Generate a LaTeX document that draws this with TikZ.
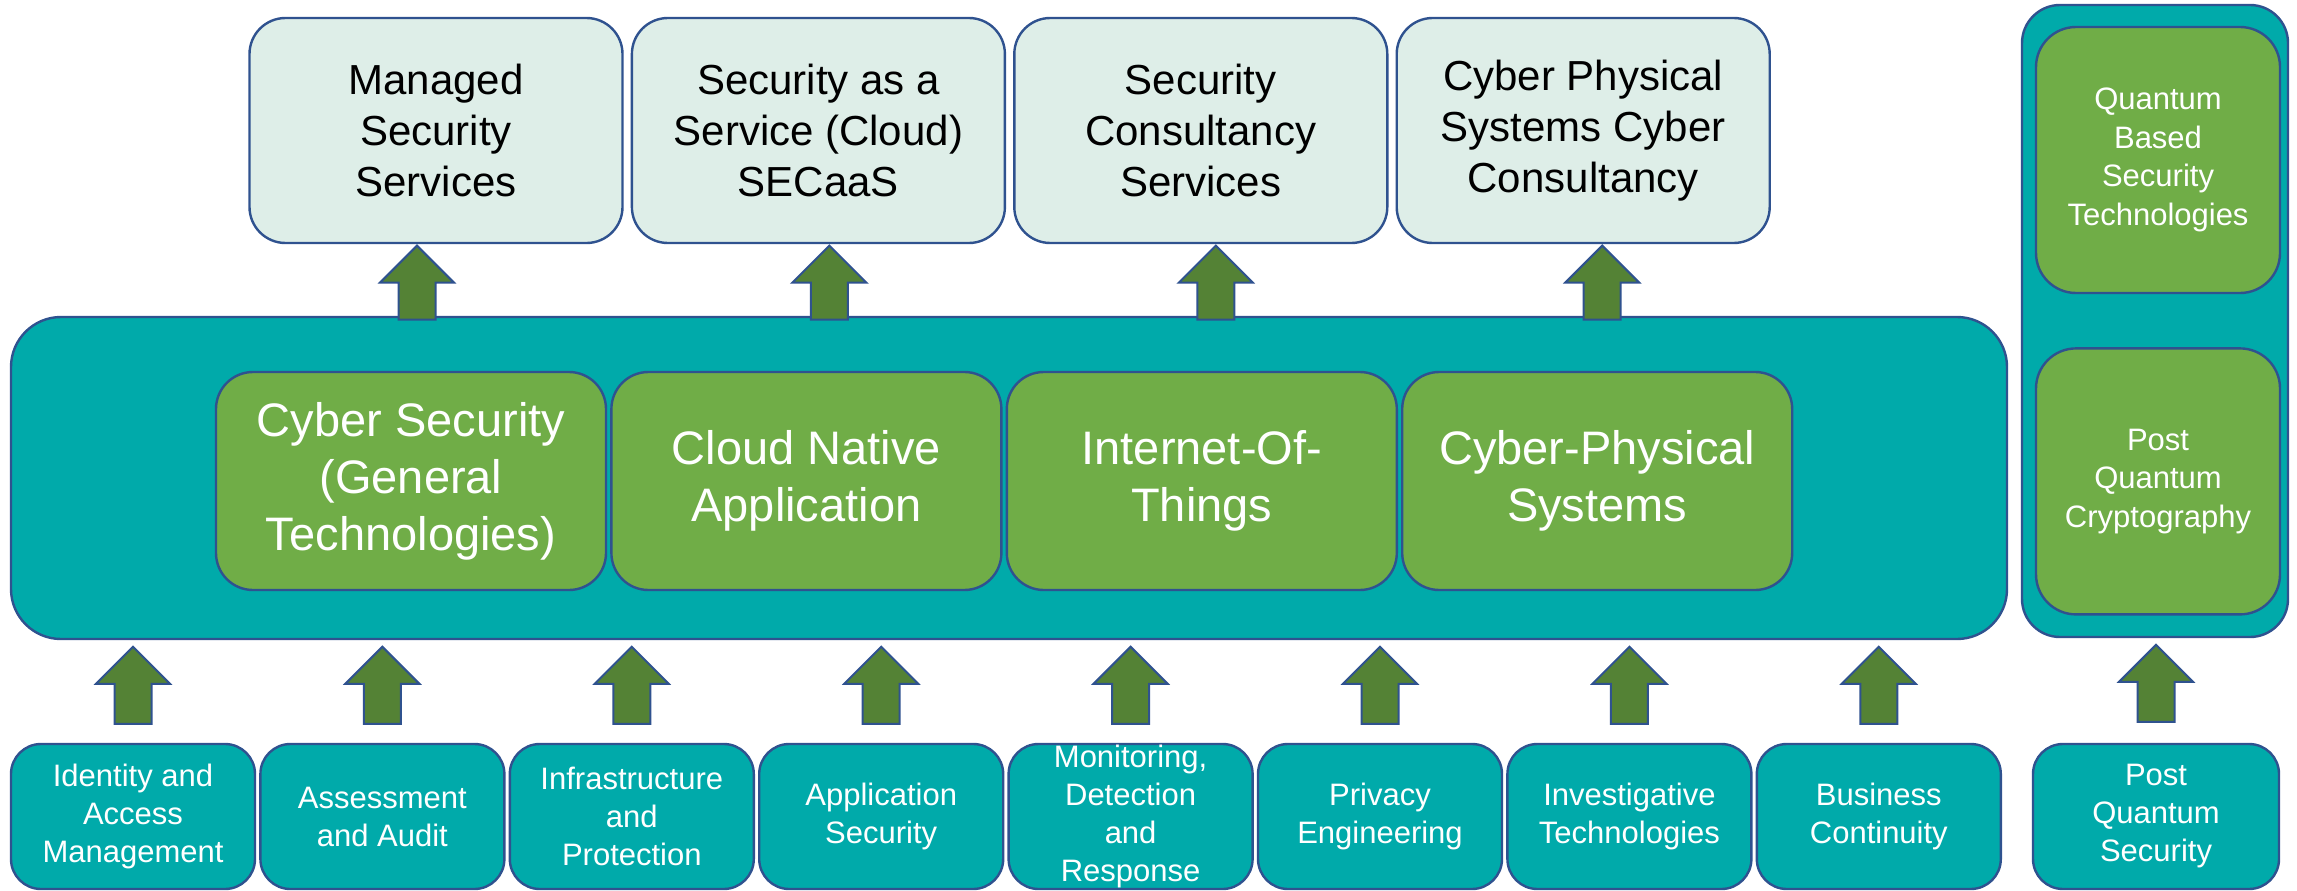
\documentclass[tikz,border=0pt]{standalone}
\usepackage{fontspec}
\setmainfont{Liberation Sans}
\usetikzlibrary{shapes.arrows, positioning}
\definecolor{edgeblue}{RGB}{47,82,143}
\definecolor{palemint}{RGB}{222,238,232}
\definecolor{tealfill}{RGB}{0,170,170}
\definecolor{leafgreen}{RGB}{112,173,71}
\definecolor{arrowgreen}{RGB}{84,130,53}
\tikzset{
  service/.style={rectangle, rounded corners=36pt, draw=edgeblue, line width=2.4pt, fill=palemint,
                  align=center, minimum width=373pt, minimum height=225pt, inner sep=0pt,
                  font=\fontsize{42}{51}\selectfont},
  platform/.style={rectangle, rounded corners=50pt, draw=edgeblue, line width=2.4pt, fill=tealfill},
  tech/.style={rectangle, rounded corners=37pt, draw=edgeblue, line width=2.4pt, fill=leafgreen,
               align=center, minimum width=390pt, minimum height=218pt, inner sep=0pt,
               text=white, font=\fontsize{47}{57}\selectfont},
  quantum/.style={rectangle, rounded corners=40pt, draw=edgeblue, line width=2.4pt, fill=leafgreen,
                  align=center, minimum width=244pt, minimum height=266pt, inner sep=0pt,
                  text=white, font=\fontsize{31}{38.5}\selectfont},
  area/.style={rectangle, rounded corners=30pt, draw=edgeblue, line width=2.4pt, fill=tealfill,
               align=center, minimum width=244pt, minimum height=145pt, inner sep=0pt,
               text=white, font=\fontsize{31}{38}\selectfont},
  upblock/.style={single arrow, rotate=90, anchor=tip, draw=edgeblue, line width=2pt, fill=arrowgreen,
                  minimum height=77pt, single arrow head extend=18.5pt,
                  inner xsep=0pt, inner ysep=17.5pt},
}

\begin{document}
\begin{tikzpicture}[x=1pt, y=-1pt]
  \useasboundingbox (0,0) rectangle (2297,891);

  % Services on top
  \node[service] (mss) at (436,130.5) {Managed\\Security\\Services};
  \node[service, right=7pt of mss] (secaas) {Security as a\\Service (Cloud)\\SECaaS};
  \node[service, right=7pt of secaas] (consult) {Security\\Consultancy\\Services};
  \node[service, right=7pt of consult] (cpsc) {Cyber Physical\\Systems Cyber\\Consultancy};

  % Core technology block
  \node[platform, minimum width=1996pt, minimum height=322pt] (core) at (1009,478) {};
  \node[tech] (cyber) at (411,481) {Cyber Security\\(General\\Technologies)};
  \node[tech, right=3pt of cyber] (cloud) {Cloud Native\\Application};
  \node[tech, right=3pt of cloud] (iot) {Internet-Of-\\Things};
  \node[tech, right=3pt of iot] (cps) {Cyber-Physical\\Systems};

  % Quantum column
  \node[platform, rounded corners=38pt, minimum width=266pt, minimum height=632pt] (qcol) at (2155,321) {};
  \node[quantum] (qbst) at (2158,160) {Quantum\\Based\\Security\\Technologies};
  \node[quantum, below=53pt of qbst] (pqc) {Post\\Quantum\\Cryptography};

  % Capability areas
  \node[area] (iam) at (133,816.5) {Identity and\\Access\\Management};
  \node[area, right=3pt of iam] (audit) {Assessment\\and Audit};
  \node[area, right=3pt of audit] (infra) {Infrastructure\\and\\Protection};
  \node[area, right=3pt of infra] (appsec) {Application\\Security};
  \node[area, right=3pt of appsec] (mdr) {Monitoring,\\Detection\\and\\Response};
  \node[area, right=3pt of mdr] (privacy) {Privacy\\Engineering};
  \node[area, right=3pt of privacy] (invest) {Investigative\\Technologies};
  \node[area, right=3pt of invest] (bcont) {Business\\Continuity};
  \node[area, minimum width=246pt] (pqs) at (2156,816.5) {Post\\Quantum\\Security};

  % Arrows into the services
  \coordinate (s1) at ([xshift=-19pt]mss.south);
  \coordinate (s2) at ([xshift=11pt]secaas.south);
  \coordinate (s3) at ([xshift=15pt]consult.south);
  \coordinate (s4) at ([xshift=19pt]cpsc.south);
  \path (s1 |- core.north) -- (s1) node[pos=1, upblock, minimum height=74pt] {};
  \path (s2 |- core.north) -- (s2) node[pos=1, upblock, minimum height=74pt] {};
  \path (s3 |- core.north) -- (s3) node[pos=1, upblock, minimum height=74pt] {};
  \path (s4 |- core.north) -- (s4) node[pos=1, upblock, minimum height=74pt] {};

  % Arrows from the capability areas
  \path (iam.north) -- (iam.north |- core.south) node[upblock, pos=0.95] {};
  \path (audit.north) -- (audit.north |- core.south) node[upblock, pos=0.95] {};
  \path (infra.north) -- (infra.north |- core.south) node[upblock, pos=0.95] {};
  \path (appsec.north) -- (appsec.north |- core.south) node[upblock, pos=0.95] {};
  \path (mdr.north) -- (mdr.north |- core.south) node[upblock, pos=0.95] {};
  \path (privacy.north) -- (privacy.north |- core.south) node[upblock, pos=0.95] {};
  \path (invest.north) -- (invest.north |- core.south) node[upblock, pos=0.95] {};
  \path (bcont.north) -- (bcont.north |- core.south) node[upblock, pos=0.95] {};
  \path (pqs.north) -- (pqs.north |- qcol.south) node[upblock, pos=0.95] {};

\end{tikzpicture}
\end{document}
